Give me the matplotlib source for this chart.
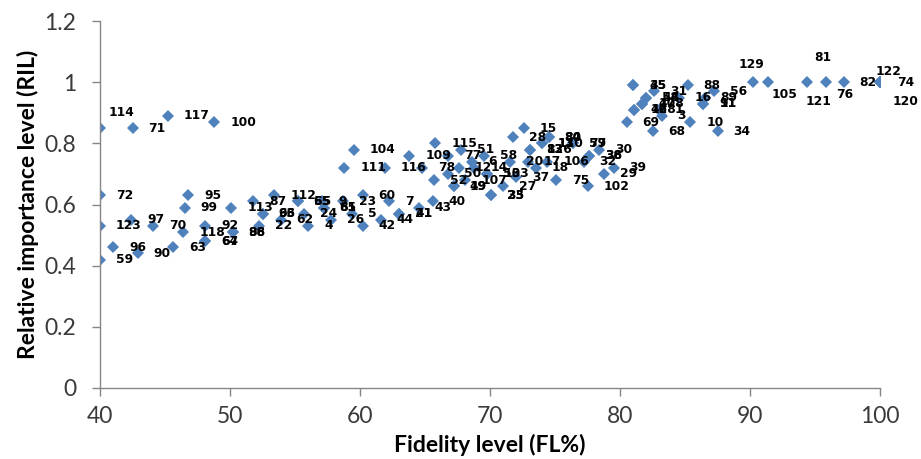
import matplotlib.pyplot as plt

# sample number, fidelity level (FL%), relative importance level (RIL)
labels = ['114', '71', '117', '100', '72', '123', '97', '96', '59', '90',
          '70', '63', '95', '99', '118', '92', '67', '64', '113', '98',
          '86', '87', '93', '66', '22', '112', '65', '55', '9', '62',
          '24', '4', '61', '85', '23', '60', '26', '5', '42', '44',
          '7', '21', '41', '43', '40', '104', '111', '116', '109', '115',
          '78', '52', '77', '51', '50', '6', '12', '14', '58', '49',
          '19', '107', '103', '53', '27', '37', '33', '25', '28', '15',
          '80', '84', '126', '83', '110', '13', '57', '79', '30', '36',
          '38', '32', '106', '18', '20', '17', '75', '102', '29', '39',
          '45', '35', '31', '54', '48', '108', '47', '128', '46', '3',
          '1', '69', '68', '88', '16', '56', '89', '91', '11', '10',
          '34', '129', '105', '121', '81', '76', '82', '122', '74', '120']
fl = [40.0, 42.5, 45.2, 48.8, 40.0, 40.0, 42.4, 41.0, 40.0, 42.9,
      44.1, 45.6, 46.8, 46.5, 46.4, 48.1, 48.1, 48.1, 50.1, 50.2,
      50.2, 51.8, 52.5, 52.5, 52.2, 53.4, 55.2, 55.2, 57.1, 53.9,
      55.7, 56.0, 57.2, 57.2, 58.7, 60.2, 57.8, 59.4, 60.2, 61.6,
      62.2, 63.0, 63.0, 64.5, 65.6, 59.5, 58.8, 61.9, 63.8, 65.8,
      64.8, 65.7, 66.8, 67.8, 66.8, 68.6, 67.6, 68.8, 69.5, 67.2,
      67.2, 68.1, 69.8, 69.8, 71.0, 72.0, 70.1, 70.1, 71.8, 72.6,
      74.5, 74.5, 73.1, 73.1, 74.0, 74.0, 76.4, 76.4, 78.4, 77.6,
      77.6, 77.2, 74.4, 73.5, 71.5, 72.9, 75.1, 77.5, 78.8, 79.5,
      81.0, 81.0, 82.6, 82.0, 82.0, 81.7, 81.7, 81.1, 81.1, 83.2,
      83.0, 80.5, 82.5, 85.2, 84.5, 87.2, 86.5, 86.4, 86.4, 85.4,
      87.5, 90.2, 91.4, 94.4, 95.8, 97.2, 100.0, 100.0, 100.0, 100.0]
ril = [0.85, 0.85, 0.89, 0.87, 0.63, 0.53, 0.55, 0.46, 0.42, 0.44,
       0.53, 0.46, 0.63, 0.59, 0.51, 0.53, 0.48, 0.48, 0.59, 0.51,
       0.51, 0.61, 0.57, 0.57, 0.53, 0.63, 0.61, 0.61, 0.61, 0.55,
       0.57, 0.53, 0.59, 0.59, 0.61, 0.63, 0.55, 0.57, 0.53, 0.55,
       0.61, 0.57, 0.57, 0.59, 0.61, 0.78, 0.72, 0.72, 0.76, 0.80,
       0.72, 0.68, 0.76, 0.78, 0.70, 0.74, 0.72, 0.72, 0.76, 0.66,
       0.66, 0.68, 0.70, 0.70, 0.66, 0.69, 0.63, 0.63, 0.82, 0.85,
       0.82, 0.82, 0.78, 0.78, 0.80, 0.80, 0.80, 0.80, 0.78, 0.76,
       0.76, 0.74, 0.74, 0.72, 0.74, 0.74, 0.68, 0.66, 0.70, 0.72,
       0.99, 0.99, 0.97, 0.95, 0.95, 0.93, 0.93, 0.91, 0.91, 0.89,
       0.91, 0.87, 0.84, 0.99, 0.95, 0.97, 0.95, 0.93, 0.93, 0.87,
       0.84, 1.0, 1.0, 1.0, 1.0, 1.0, 1.0, 1.0, 1.0, 1.0]

# labels that were moved away from the default "right of marker" spot
label_pos = {
    '114': ((6, 11), 'left'),
    '129': ((-1, 13), 'center'),
    '105': ((2, -9), 'left'),
    '121': ((8, -14), 'center'),
    '81': ((-2, 18), 'center'),
    '76': ((1, -9), 'center'),
    '82': ((-3, 0), 'right'),
    '122': ((6, 8), 'center'),
    '74': ((12, 0), 'left'),
    '120': ((9, -14), 'left'),
}

grey = '#868686'

fig = plt.figure(figsize=(9.21, 4.59), dpi=100)
ax = fig.add_axes([0.1086, 0.1547, 0.847, 0.7993])

ax.plot(fl, ril, linestyle='none', marker='D', markersize=6.4,
        color='#4f81bd', markeredgewidth=0, zorder=2)

for lab, x, y in zip(labels, fl, ril):
    off, ha = label_pos.get(lab, ((11.5, 0), 'left'))
    ax.annotate(lab, (x, y), xytext=off, textcoords='offset points',
                ha=ha, va='center', fontsize=8.8, fontweight='bold',
                color='black', zorder=3)

ax.set_xlim(40, 100)
ax.set_ylim(0, 1.2)
ax.set_xticks(range(40, 101, 10))
ax.set_yticks([0, 0.2, 0.4, 0.6, 0.8, 1.0, 1.2])
ax.set_yticklabels(['0', '0.2', '0.4', '0.6', '0.8', '1', '1.2'])

for side in ['top', 'right']:
    ax.spines[side].set_visible(False)
for side in ['left', 'bottom']:
    ax.spines[side].set_color(grey)
    ax.spines[side].set_linewidth(1)
ax.tick_params(axis='both', colors=grey, length=6, width=1,
               labelsize=16.5, labelcolor='#3a3a3a')
ax.tick_params(axis='x', pad=7)
ax.tick_params(axis='y', pad=11)
for t in ax.get_xticklabels() + ax.get_yticklabels():
    t.set_family('Lato')

ax.set_xlabel('Fidelity level (FL%)', fontsize=16.5, fontweight='bold',
              family='Lato', labelpad=5)
ax.set_ylabel('Relative importance level (RIL)', fontsize=16.5,
              fontweight='bold', family='Lato', labelpad=4)

fig.savefig('out.png', dpi=100)
